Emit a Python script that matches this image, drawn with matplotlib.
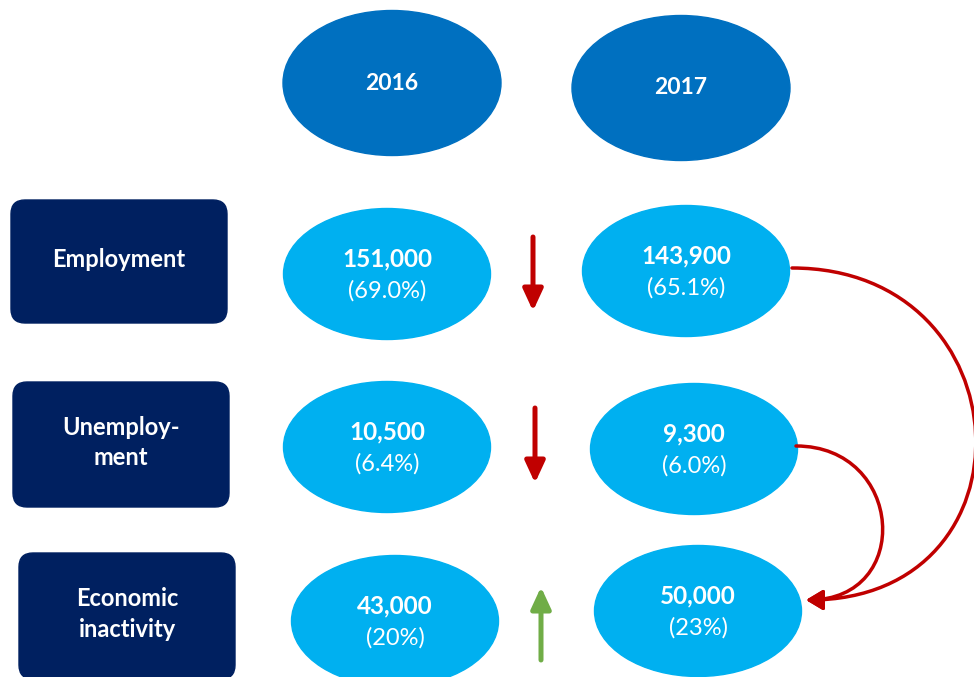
import matplotlib.pyplot as plt
from matplotlib.patches import Ellipse, FancyBboxPatch, FancyArrowPatch
from matplotlib.path import Path

plt.rcParams['font.family'] = ['Lato', 'DejaVu Sans']

years = ["2016", "2017"]
categories = ["Employment", "Unemploy-\nment", "Economic\ninactivity"]
counts_2016 = ["151,000", "10,500", "43,000"]
shares_2016 = ["(69.0%)", "(6.4%)", "(20%)"]
counts_2017 = ["143,900", "9,300", "50,000"]
shares_2017 = ["(65.1%)", "(6.0%)", "(23%)"]
change = ["down", "down", "up"]

# layout (pixel coords of the original picture)
year_pos = [(392, 83), (681, 88)]
label_boxes = [(11, 200, 216, 123), (13, 382, 216, 125), (19, 553, 216, 126)]
pos_2016 = [(387, 274), (387, 447), (395, 621)]
pos_2017 = [(686, 271), (694, 449), (698, 611)]
arrow_x = [533, 535, 541]
arrow_y = [(237, 311), (408, 483), (587, 660)]

navy = "#002060"
blue = "#0070C0"
light = "#00B0F0"
red = "#C00000"
green = "#70AD47"

fig = plt.figure(figsize=(9.74, 6.77), dpi=100)
ax = fig.add_axes([0, 0, 1, 1])
ax.set_xlim(0, 974)
ax.set_ylim(677, 0)
ax.axis("off")

for (x, y), yr in zip(year_pos, years):
    ax.add_patch(Ellipse((x, y), 218, 145, color=blue))
    ax.text(x, y, yr, color="white", fontsize=16.5, fontweight="bold",
            ha="center", va="center")

for (x, y, w, h), cat in zip(label_boxes, categories):
    ax.add_patch(FancyBboxPatch((x + 14, y + 14), w - 28, h - 28,
                                boxstyle="round,pad=14", color=navy))
    ax.text(x + w / 2, y + h / 2 - 2, cat, color="white", fontsize=17,
            fontweight="bold", ha="center", va="center", linespacing=1.4)

for pos, counts, shares in [(pos_2016, counts_2016, shares_2016),
                            (pos_2017, counts_2017, shares_2017)]:
    for (x, y), c, s in zip(pos, counts, shares):
        ax.add_patch(Ellipse((x, y), 207, 131, color=light))
        ax.text(x, y - 15, c, color="white", fontsize=17.5, fontweight="bold",
                ha="center", va="center")
        ax.text(x, y + 17, s, color="white", fontsize=17,
                ha="center", va="center")

for x, (y0, y1), d in zip(arrow_x, arrow_y, change):
    tip, tail, col = ((x, y1), (x, y0), red) if d == "down" else ((x, y0), (x, y1), green)
    ax.annotate("", xy=tip, xytext=tail,
                arrowprops=dict(arrowstyle="-|>,head_width=0.6,head_length=1.3",
                                color=col, lw=3.6, shrinkA=0, shrinkB=0))

# flows into economic inactivity
end = (806, 600)
for start, k in [((792, 268), 235), ((796, 446), 108)]:
    verts = [start, (start[0] + k, start[1]), (end[0] + k, end[1]), end]
    path = Path(verts, [Path.MOVETO, Path.CURVE4, Path.CURVE4, Path.CURVE4])
    ax.add_patch(FancyArrowPatch(path=path,
                                 arrowstyle="-|>,head_width=6,head_length=10",
                                 color=red, lw=2.5))

fig.savefig("out.png", dpi=100)
